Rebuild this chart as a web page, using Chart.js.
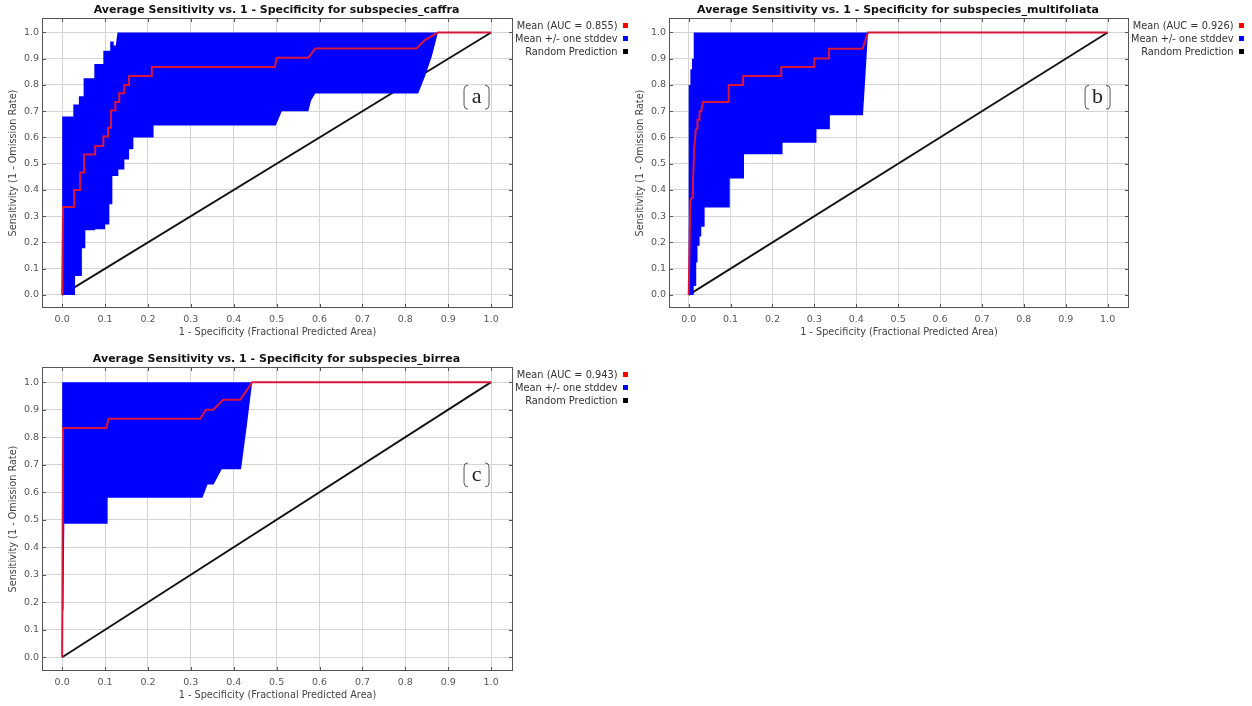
<!DOCTYPE html>
<html lang="en">
<head>
<meta charset="UTF-8">
<title>Average Sensitivity vs. 1 - Specificity</title>
<script src="https://cdn.jsdelivr.net/npm/chart.js"></script>
<style>
  body { margin: 0; background: #fff; }
  .wrap { position: relative; width: 1252px; height: 706px; overflow: hidden; }
  canvas { position: absolute; }
</style>
</head>
<body>
<div class="wrap">
  <canvas id="chartA" width="640" height="340" style="left:0;top:0"></canvas>
  <canvas id="chartB" width="625" height="340" style="left:627px;top:0"></canvas>
  <canvas id="chartC" width="640" height="358" style="left:0;top:345px"></canvas>
</div>
<script>
// tick labels
const xTicks = [0, 0.1, 0.2, 0.3, 0.4, 0.5, 0.6, 0.7, 0.8, 0.9, 1.0];
const yTicks = [0, 0.1, 0.2, 0.3, 0.4, 0.5, 0.6, 0.7, 0.8, 0.9, 1.0];

// random prediction (diagonal)
const randomX = [0, 1];
const randomY = [0, 1];

// subspecies_caffra
const caffraMeanX = [0, 0.002, 0.028, 0.028, 0.042, 0.042, 0.051, 0.051, 0.077, 0.077, 0.096, 0.096, 0.107, 0.107, 0.114, 0.114, 0.124, 0.124, 0.133, 0.133, 0.145, 0.145, 0.156, 0.156, 0.209, 0.209, 0.496, 0.5, 0.574, 0.59, 0.826, 0.845, 0.876, 1.0];
const caffraMeanY = [0, 0.335, 0.335, 0.40, 0.40, 0.466, 0.466, 0.535, 0.535, 0.567, 0.567, 0.603, 0.603, 0.637, 0.637, 0.703, 0.703, 0.735, 0.735, 0.768, 0.768, 0.80, 0.80, 0.834, 0.834, 0.868, 0.868, 0.904, 0.904, 0.939, 0.939, 0.97, 1.0, 1.0];
const caffraUpperX = [0, 0, 0.026, 0.026, 0.039, 0.039, 0.05, 0.05, 0.075, 0.075, 0.096, 0.096, 0.112, 0.112, 0.12, 0.12, 0.125, 0.129, 0.876];
const caffraUpperY = [0, 0.68, 0.68, 0.725, 0.725, 0.757, 0.757, 0.825, 0.825, 0.88, 0.88, 0.93, 0.93, 0.965, 0.965, 0.95, 0.95, 1.0, 1.0];
const caffraLowerX = [0, 0.03, 0.03, 0.046, 0.046, 0.054, 0.054, 0.077, 0.077, 0.10, 0.10, 0.11, 0.11, 0.117, 0.117, 0.131, 0.131, 0.145, 0.145, 0.156, 0.156, 0.166, 0.166, 0.213, 0.213, 0.498, 0.512, 0.574, 0.58, 0.59, 0.83, 0.846, 0.862, 0.876];
const caffraLowerY = [0, 0, 0.072, 0.072, 0.178, 0.178, 0.246, 0.246, 0.25, 0.25, 0.268, 0.268, 0.345, 0.345, 0.453, 0.453, 0.478, 0.478, 0.516, 0.516, 0.555, 0.555, 0.60, 0.60, 0.645, 0.645, 0.70, 0.70, 0.74, 0.767, 0.767, 0.833, 0.91, 1.0];

// subspecies_multifoliata
const multiMeanX = [0, 0.004, 0.008, 0.01, 0.013, 0.017, 0.021, 0.021, 0.026, 0.026, 0.03, 0.034, 0.0955, 0.0955, 0.13, 0.13, 0.221, 0.221, 0.30, 0.30, 0.335, 0.335, 0.415, 0.428, 1.0];
const multiMeanY = [0, 0.36, 0.37, 0.42, 0.55, 0.63, 0.633, 0.667, 0.667, 0.70, 0.70, 0.735, 0.735, 0.80, 0.80, 0.834, 0.834, 0.868, 0.868, 0.901, 0.901, 0.938, 0.938, 1.0, 1.0];
const multiUpperX = [0, 0, 0.004, 0.004, 0.008, 0.008, 0.012, 0.012, 0.428];
const multiUpperY = [0, 0.80, 0.80, 0.86, 0.86, 0.90, 0.90, 1.0, 1.0];
const multiLowerX = [0, 0.012, 0.012, 0.018, 0.018, 0.021, 0.021, 0.026, 0.026, 0.030, 0.030, 0.038, 0.038, 0.098, 0.098, 0.132, 0.132, 0.224, 0.224, 0.305, 0.305, 0.337, 0.337, 0.416, 0.422, 0.428];
const multiLowerY = [0, 0, 0.034, 0.034, 0.123, 0.123, 0.187, 0.187, 0.222, 0.222, 0.26, 0.26, 0.333, 0.333, 0.443, 0.443, 0.536, 0.536, 0.58, 0.58, 0.631, 0.631, 0.684, 0.684, 0.84, 1.0];

// subspecies_birrea
const birreaMeanX = [0, 0.002, 0.103, 0.108, 0.322, 0.335, 0.353, 0.375, 0.415, 0.43, 0.443, 1.0];
const birreaMeanY = [0, 0.833, 0.833, 0.867, 0.867, 0.90, 0.90, 0.936, 0.936, 0.97, 1.0, 1.0];
const birreaUpperX = [0, 0, 0.443];
const birreaUpperY = [0.485, 1.0, 1.0];
const birreaLowerX = [0, 0.002, 0.003, 0.005, 0.106, 0.106, 0.327, 0.339, 0.353, 0.372, 0.417, 0.43, 0.443];
const birreaLowerY = [0.485, 0.485, 0.17, 0.485, 0.485, 0.58, 0.58, 0.628, 0.628, 0.683, 0.683, 0.836, 1.0];

const FONT = '"DejaVu Sans", Verdana, sans-serif';
Chart.defaults.font.family = FONT;

function pts(xs, ys) {
  return xs.map((x, i) => ({ x: x, y: ys[i] }));
}

// title, legend, frame and panel letter
function decor(o) {
  return {
    id: 'decor',
    afterDatasetsDraw(chart) {
      const { ctx, chartArea: a, scales: { x, y } } = chart;
      ctx.save();
      ctx.strokeStyle = '#555';
      ctx.lineWidth = 1;
      ctx.strokeRect(a.left + 0.5, a.top + 0.5, a.right - a.left - 1, a.bottom - a.top - 1);
      ctx.beginPath();
      x.ticks.forEach(t => {
        const px = Math.round(x.getPixelForValue(t.value)) + 0.5;
        ctx.moveTo(px, a.top); ctx.lineTo(px, a.top + 4);
        ctx.moveTo(px, a.bottom); ctx.lineTo(px, a.bottom - 4);
      });
      y.ticks.forEach(t => {
        const py = Math.round(y.getPixelForValue(t.value)) + 0.5;
        ctx.moveTo(a.left, py); ctx.lineTo(a.left + 4, py);
        ctx.moveTo(a.right, py); ctx.lineTo(a.right - 4, py);
      });
      ctx.stroke();
      ctx.restore();
    },
    afterDraw(chart) {
      const { ctx, chartArea: a, scales: { x, y } } = chart;
      ctx.save();
      // title
      ctx.fillStyle = '#111';
      ctx.font = 'bold 11px ' + FONT;
      ctx.textAlign = 'center';
      ctx.textBaseline = 'middle';
      ctx.fillText(o.title, (a.left + a.right) / 2 - 1, a.top - 8);
      // legend
      ctx.font = '9.8px ' + FONT;
      ctx.textAlign = 'right';
      chart.data.datasets.forEach((ds, i) => {
        const cy = a.top + 8 + i * 13;
        ctx.fillStyle = '#333';
        ctx.fillText(ds.label, a.right + 104.5, cy);
        ctx.fillStyle = ds.legendColor;
        ctx.fillRect(a.right + 110, cy - 3, 5, 5);
      });
      // panel letter
      const cx = x.getPixelForValue(o.tagX), cy = y.getPixelForValue(o.tagY);
      const w = 25, h = 24, r = 4;
      const l = cx - w / 2, rt = cx + w / 2, t = cy - h / 2, b = cy + h / 2;
      ctx.strokeStyle = '#555';
      ctx.lineWidth = 1;
      ctx.beginPath();
      ctx.moveTo(l + r, t); ctx.arcTo(l, t, l, t + r, r); ctx.lineTo(l, b - r); ctx.arcTo(l, b, l + r, b, r);
      ctx.moveTo(rt - r, t); ctx.arcTo(rt, t, rt, t + r, r); ctx.lineTo(rt, b - r); ctx.arcTo(rt, b, rt - r, b, r);
      ctx.stroke();
      ctx.fillStyle = '#222';
      ctx.font = '22px "Liberation Serif", "DejaVu Serif", serif';
      ctx.textAlign = 'center';
      ctx.textBaseline = 'middle';
      ctx.fillText(o.tag, cx, cy);
      ctx.restore();
    }
  };
}

function rocChart(id, o) {
  const band = pts(o.upperX, o.upperY).concat(pts(o.lowerX, o.lowerY).reverse());
  return new Chart(document.getElementById(id), {
    type: 'line',
    data: {
      datasets: [
        { label: o.meanLabel, data: pts(o.meanX, o.meanY), borderColor: '#d8163c', borderWidth: 2,
          pointRadius: 0, fill: false, order: 0, legendColor: '#ff0000' },
        { label: 'Mean +/- one stddev', data: band, borderWidth: 0, borderColor: 'rgba(0,0,0,0)',
          backgroundColor: '#0000ff', fill: 'shape', pointRadius: 0, order: 1, legendColor: '#0000ff' },
        { label: 'Random Prediction', data: pts(randomX, randomY), borderColor: '#111', borderWidth: 1.8,
          pointRadius: 0, fill: false, order: 2, legendColor: '#000000' }
      ]
    },
    options: {
      responsive: false,
      animation: false,
      events: [],
      layout: { padding: { top: o.padTop, right: o.padRight, bottom: 0, left: 0 }, autoPadding: false },
      plugins: { legend: { display: false }, title: { display: false }, tooltip: { enabled: false } },
      scales: {
        x: {
          type: 'linear', min: -0.047, max: 1.051,
          afterBuildTicks: s => { s.ticks = xTicks.map(v => ({ value: v })); },
          afterFit: s => { s.height = 32; },
          grid: { color: '#d4d4d4', drawTicks: false },
          border: { display: false },
          ticks: { padding: 6, color: '#555', font: { size: 9.5 }, autoSkip: false, maxRotation: 0,
                   callback: v => v.toFixed(1) },
          title: { display: true, text: '1 - Specificity (Fractional Predicted Area)', color: '#444',
                   font: { size: 9.7 }, padding: { top: 0, bottom: 1.5 } }
        },
        y: {
          type: 'linear', min: -0.05, max: 1.055,
          afterBuildTicks: s => { s.ticks = yTicks.map(v => ({ value: v })); },
          afterFit: s => { s.width = 42; },
          grid: { color: '#d4d4d4', drawTicks: false },
          border: { display: false },
          ticks: { padding: 3, color: '#555', font: { size: 9.5 }, autoSkip: false,
                   callback: v => v.toFixed(1) },
          title: { display: true, text: 'Sensitivity (1 - Omission Rate)', color: '#444',
                   font: { size: 9.7 }, padding: { top: 8, bottom: 0 } }
        }
      }
    },
    plugins: [decor(o)]
  });
}

rocChart('chartA', {
  title: 'Average Sensitivity vs. 1 - Specificity for subspecies_caffra',
  meanLabel: 'Mean (AUC = 0.855)', tag: 'a', tagX: 0.966, tagY: 0.753,
  meanX: caffraMeanX, meanY: caffraMeanY, upperX: caffraUpperX, upperY: caffraUpperY,
  lowerX: caffraLowerX, lowerY: caffraLowerY, padTop: 18, padRight: 127
});

rocChart('chartB', {
  title: 'Average Sensitivity vs. 1 - Specificity for subspecies_multifoliata',
  meanLabel: 'Mean (AUC = 0.926)', tag: 'b', tagX: 0.976, tagY: 0.753,
  meanX: multiMeanX, meanY: multiMeanY, upperX: multiUpperX, upperY: multiUpperY,
  lowerX: multiLowerX, lowerY: multiLowerY, padTop: 18, padRight: 123
});

rocChart('chartC', {
  title: 'Average Sensitivity vs. 1 - Specificity for subspecies_birrea',
  meanLabel: 'Mean (AUC = 0.943)', tag: 'c', tagX: 0.966, tagY: 0.663,
  meanX: birreaMeanX, meanY: birreaMeanY, upperX: birreaUpperX, upperY: birreaUpperY,
  lowerX: birreaLowerX, lowerY: birreaLowerY, padTop: 22, padRight: 127
});
</script>
</body>
</html>
